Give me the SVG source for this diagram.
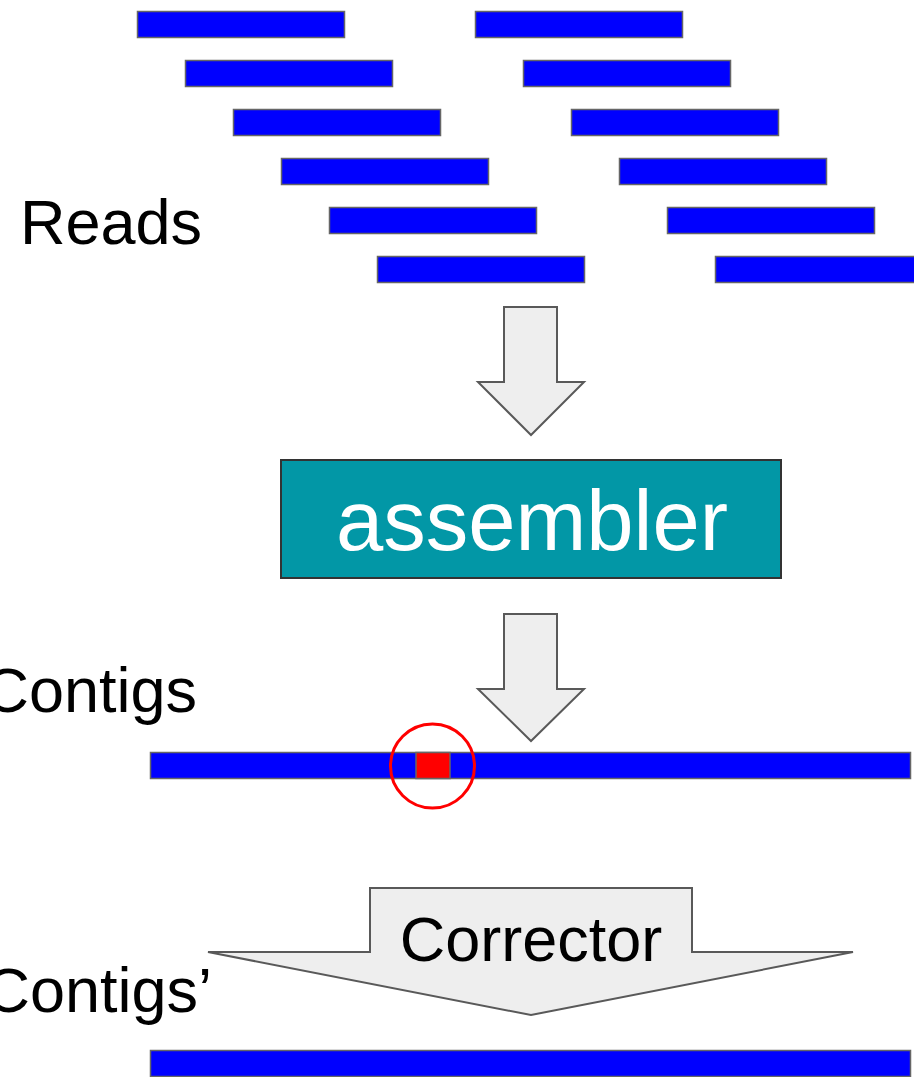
<svg xmlns="http://www.w3.org/2000/svg" width="914" height="1077" viewBox="0 0 914 1077">
<style>
.read{fill:#0000ff;stroke:#666;stroke-width:1.5}
.arr{fill:#eeeeee;stroke:#595959;stroke-width:2;stroke-linejoin:miter}
.lbl{font-family:"Liberation Sans",Arial,sans-serif;font-size:63px;fill:#000}
</style>
<rect width="914" height="1077" fill="#fff"/>
<g id="reads">
<rect class="read" x="137.5" y="11.5" width="207" height="26"/>
<rect class="read" x="185.5" y="60.5" width="207" height="26"/>
<rect class="read" x="233.5" y="109.5" width="207" height="26"/>
<rect class="read" x="281.5" y="158.5" width="207" height="26"/>
<rect class="read" x="329.5" y="207.5" width="207" height="26"/>
<rect class="read" x="377.5" y="256.5" width="207" height="26"/>
<rect class="read" x="475.5" y="11.5" width="207" height="26"/>
<rect class="read" x="523.5" y="60.5" width="207" height="26"/>
<rect class="read" x="571.5" y="109.5" width="207" height="26"/>
<rect class="read" x="619.5" y="158.5" width="207" height="26"/>
<rect class="read" x="667.5" y="207.5" width="207" height="26"/>
<rect class="read" x="715.5" y="256.5" width="207" height="26"/>
</g>
<g id="label-reads"><text class="lbl" x="20" y="244">Reads</text></g>
<g id="connectors">
<polygon class="arr" points="504,307 557,307 557,382 584,382 531,435 478,382 504,382"/>
<polygon class="arr" points="504,614 557,614 557,689 584,689 531,741 478,689 504,689"/>
</g>
<g id="assembler">
<rect x="281" y="460" width="500" height="118" fill="#0297a6" stroke="#333" stroke-width="2"/>
<text x="532" y="550" text-anchor="middle" font-family="Liberation Sans,Arial,sans-serif" font-size="85" fill="#fff">assembler</text>
</g>
<g id="label-contigs"><text class="lbl" x="197" y="712" text-anchor="end">Contigs</text></g>
<g id="contig">
<rect class="read" x="150.5" y="752.5" width="760" height="26"/>
<rect x="416" y="752.5" width="34" height="26" fill="#ff0000" stroke="#666" stroke-width="1.5"/>
<circle cx="432.5" cy="766" r="42" fill="none" stroke="#ff0000" stroke-width="3"/>
</g>
<g id="corrector">
<polygon class="arr" points="370,888 692,888 692,952 853,952 531,1015 208,952 370,952"/>
<text class="lbl" x="531" y="961" text-anchor="middle">Corrector</text>
</g>
<g id="label-contigs2"><text class="lbl" x="212" y="1012" text-anchor="end">Contigs’</text></g>
<g id="contig2">
<rect class="read" x="150.5" y="1050.5" width="760" height="26"/>
</g>
</svg>
